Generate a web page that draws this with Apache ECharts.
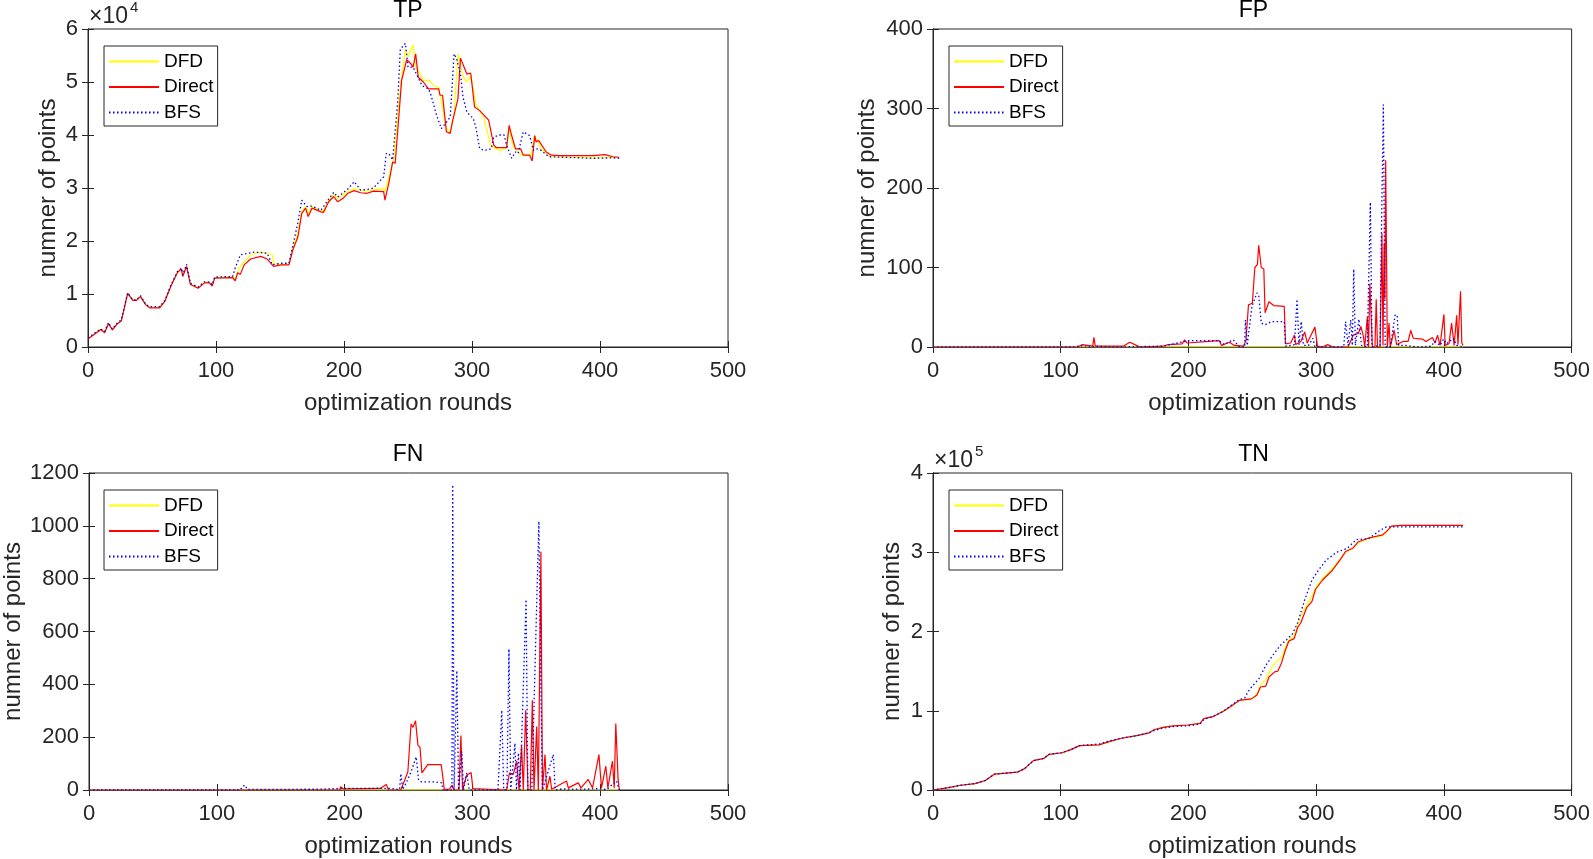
<!DOCTYPE html>
<html>
<head>
<meta charset="utf-8">
<title>TP / FP / FN / TN</title>
<script src="https://cdn.jsdelivr.net/npm/echarts/dist/echarts.min.js"></script>
<style>
html, body { margin: 0; padding: 0; background: #fff; }
#main { width: 1593px; height: 859px; }
</style>
</head>
<body>
<div id="main"></div>
<script>
// values: [optimization round, number of points]
var xTicks = [0, 100, 200, 300, 400, 500];
var tpTicks = [0, 10000, 20000, 30000, 40000, 50000, 60000];
var fpTicks = [0, 100, 200, 300, 400];
var fnTicks = [0, 200, 400, 600, 800, 1000, 1200];
var tnTicks = [0, 100000, 200000, 300000, 400000];

var tpDFD = [[0,1600],[5,2500],[10,3400],[13,2800],[16,4500],[19,3300],[23,4500],[26,5000],[31,10200],[35,8900],[38,8900],[41,9600],[45,8100],[48,7500],[56,7500],[60,8700],[65,11700],[70,14200],[73,14800],[74,13500],[77,15300],[80,11900],[86,11200],[91,12200],[95,12200],[97,11600],[99,13100],[113,13200],[115,12700],[117,14300],[119,15200],[127,17400],[135,17900],[144,17400],[145,15800],[151,15600],[157,15700],[160,18700],[164,21500],[167,25600],[170,26500],[172,25200],[175,26500],[182,25700],[184,25700],[188,27700],[192,28900],[195,28000],[199,28600],[203,29400],[208,29900],[213,29600],[218,29500],[223,29700],[231,29800],[232,29300],[235,32000],[239,35900],[244,49000],[248,56200],[250,54700],[254,57000],[256,52800],[259,51800],[262,50300],[267,50300],[270,49300],[274,49000],[280,41200],[283,40600],[286,44000],[289,55300],[293,50900],[296,50000],[299,51200],[303,45900],[309,43400],[315,37800],[322,37100],[327,37400],[329,41500],[332,37800],[339,36200],[346,36200],[349,39900],[354,37400],[361,35900],[395,35700],[415,35800]];
var tpDirect = [[0,1500],[5,2400],[10,3300],[13,2700],[16,4400],[19,3200],[23,4400],[26,4900],[31,10100],[35,8800],[38,8800],[41,9500],[45,8000],[48,7400],[56,7400],[60,8600],[65,11600],[70,14100],[73,14700],[74,13300],[77,15200],[80,11800],[86,11100],[91,12100],[95,12100],[97,11500],[99,13000],[113,13100],[115,12500],[117,14000],[119,13700],[122,15500],[127,16600],[135,17100],[140,16600],[145,15200],[151,15500],[157,15500],[160,18300],[164,20800],[167,25200],[170,26200],[172,24600],[175,26200],[182,25500],[184,25400],[188,27400],[192,28400],[195,27400],[199,28000],[203,29000],[208,29500],[213,29100],[218,29000],[223,29400],[231,29300],[232,27700],[235,30900],[238,34900],[240,34700],[243,44000],[245,50300],[249,54200],[252,53500],[254,52800],[256,55300],[258,50900],[262,50000],[266,48700],[274,48700],[275,47500],[277,47500],[280,40600],[283,40300],[285,42800],[289,46800],[291,54500],[296,51500],[299,51700],[302,45300],[306,44600],[313,42800],[317,38100],[319,37600],[327,37600],[329,41800],[331,39900],[334,37400],[338,37400],[340,36200],[345,36200],[347,35100],[349,39900],[350,38700],[352,39000],[358,36800],[362,36200],[369,36100],[395,36100],[404,36300],[410,35900],[415,35800]];
var tpBFS = [[0,1700],[5,2600],[10,3400],[13,2900],[16,4600],[19,3400],[23,4600],[26,5100],[31,10200],[35,8900],[38,8900],[41,9700],[45,8100],[48,7600],[56,7600],[60,8800],[65,11800],[70,14300],[73,14900],[74,13600],[77,15600],[80,12000],[86,11300],[91,12300],[95,12300],[97,11700],[99,13200],[113,13300],[115,14900],[119,17400],[130,17900],[140,17700],[144,15500],[151,15800],[157,15800],[161,20200],[164,23500],[167,27700],[171,26500],[175,26600],[182,25800],[188,27900],[192,29200],[195,28300],[199,29000],[203,29800],[208,31200],[213,29600],[218,29700],[223,30000],[231,32100],[233,36500],[235,36500],[238,35300],[242,46500],[244,56200],[248,57300],[250,52800],[254,52800],[261,49300],[266,48700],[268,47500],[272,44000],[276,41200],[280,42400],[283,43400],[286,55300],[288,54400],[291,51500],[293,47100],[296,44300],[301,43100],[303,41500],[306,37400],[310,37100],[315,37400],[317,39600],[321,40000],[325,40000],[327,38100],[331,35600],[334,36800],[336,36500],[340,40600],[345,39900],[348,37100],[351,37400],[354,37100],[360,35900],[395,35600],[410,35700],[415,35600]];

// DFD stays at zero for FP and FN
var fpDFD = [[0,0],[415,0]];
var fpDirect = [[0,0],[113,0],[117,3],[125,1],[126,12],[127,1],[138,1],[149,1],[154,6],[158,3],[162,0],[180,1],[184,3],[195,4],[197,9],[199,5],[216,7],[224,8],[226,2],[232,6],[236,2],[243,1],[245,8],[247,53],[250,55],[252,100],[254,104],[255,128],[257,100],[259,98],[260,43],[263,57],[267,52],[275,51],[276,4],[280,5],[283,15],[284,3],[288,7],[291,19],[293,5],[296,15],[299,25],[301,1],[305,0],[309,3],[313,0],[325,0],[329,15],[333,17],[335,26],[337,13],[338,0],[340,38],[341,0],[342,80],[344,0],[346,0],[347,60],[348,0],[350,0],[351.5,143],[352.3,2],[353.2,130],[353.8,60],[354.4,235],[355.7,0],[357,30],[358,0],[361,21],[363,3],[368,7],[372,7],[374,21],[376,11],[383,10],[386,7],[391,12],[393,5],[395,15],[397,2],[400,41],[401,2],[404,4],[406,30],[408,2],[410,40],[411,3],[413,70],[414,5],[415,2]];
var fpBFS = [[0,0],[110,0],[118,2],[122,0],[128,1],[140,0],[180,1],[200,8],[224,8],[228,3],[235,9],[240,0],[244,0],[244.6,34],[246,2],[249.7,51],[253.6,68],[255,65],[257,30],[260,28],[265,32],[275,32],[276,1],[283,3],[285,60],[286.5,3],[288.3,32],[290,2],[294,2],[297.4,11],[299,0],[321.6,0],[323,32],[325,2],[327,34],[328.3,2],[329.4,98],[330.7,2],[333.4,35],[335.5,2],[340,0],[342.4,182],[343.7,0],[350,2],[351,135],[352.6,305],[354,0],[358,0],[361.9,41],[363.5,38],[364.6,2],[370,2],[380,0],[390,1],[393,7],[397,2],[399.7,10],[402,4],[407.5,11],[410,2],[415,0]];

var fnDFD = [[0,0],[415,0]];
var fnDirect = [[0,0],[110,0],[111,6],[112,0],[196,0],[197,12],[199,4],[228,6],[232.6,21],[234.4,0],[244,1],[247,37],[249.5,69],[252,250],[253.5,237],[255.5,262],[257.4,169],[259,162],[260.5,65],[265,96],[275.6,96],[277,44],[278,2],[282,3],[284,19],[285.5,0],[289.5,0],[291,206],[292.3,0],[295.5,56],[299,66],[300.4,5],[326.8,0],[329,65],[332,59],[334.6,109],[336.5,0],[338.5,171],[339.8,0],[341.7,302],[343.5,0],[345.3,0],[346.9,340],[348.2,0],[350.3,240],[351.6,0],[353.6,902],[354.8,0],[356.8,134],[358,0],[360.7,52],[362,3],[373.7,34],[375,8],[382.8,27],[385,8],[390.6,40],[394,8],[399,134],[401,8],[404.4,90],[406,8],[409.6,109],[411,8],[412.2,252],[414,40],[415,0]];
var fnBFS = [[0,0],[118,0],[121.8,19],[124,2],[180,3],[200,6],[235,6],[243,2],[244,62],[245.5,2],[248,25],[252,69],[256,125],[257.9,37],[260,31],[270,31],[276,27],[277,0],[284,0],[284.6,1155],[285.7,0],[287.8,452],[289.2,0],[291.7,146],[293,0],[295.6,65],[297.5,0],[320,0],[323,302],[324.5,0],[327,0],[328.6,534],[330,0],[333.3,177],[334.5,0],[336,140],[337.3,0],[342,721],[343.4,0],[346.5,0],[352,1017],[353.4,446],[354.8,0],[363.3,134],[364.8,0],[370,4],[385,3],[398,5],[405,2],[412.8,34],[415,0]];

var tnDFD = [[0,0],[12,3000],[21.7,6000],[32.8,8000],[41,12000],[48,20000],[55,21000],[66,22500],[71.7,27000],[78.6,37000],[87,40000],[91,45000],[101,47000],[108,51000],[114.7,56000],[130,57000],[138,61000],[146.7,65000],[160.5,69000],[169,72000],[173,76000],[180,79000],[188,81000],[199.4,82000],[209,84000],[212,90000],[219,92500],[227,99000],[232.8,105000],[239.7,113000],[249.4,115000],[253.6,121000],[256.4,132000],[260.5,140000],[266,157000],[273,168000],[278,188000],[283,196000],[288,220000],[296.7,245000],[300,256000],[305,267000],[312,278000],[319,292000],[323,300000],[328.6,305000],[332.8,312000],[341,317000],[352,321000],[355,326000],[359,333000],[366,333500],[415,333500]];
var tnDirect = [[0,0],[12,3000],[21.7,6000],[32.8,8000],[41,12000],[48,20000],[55,21000],[66,22500],[71.7,27000],[78.6,37000],[87,40000],[91,45000],[101,47000],[108,51000],[114.7,56000],[130,57000],[138,61000],[146.7,65000],[160.5,69000],[169,72000],[173,76000],[180,79000],[188,81000],[199.4,82000],[209,84000],[212,90000],[219,92500],[227,99000],[232.8,105000],[239.7,113000],[249.4,115000],[253.6,120000],[256.4,130000],[260.5,131000],[263,142500],[267.5,149000],[270,150000],[273,161000],[275.8,176000],[278.6,188000],[282.8,191000],[285.5,205000],[288,211000],[292.5,230000],[296.7,238000],[299.4,253000],[305,265000],[312,276000],[319,291000],[323,301000],[328.6,305000],[332.8,313000],[341,318000],[352,322000],[355,326000],[359,333000],[366,334000],[415,334000]];
var tnBFS = [[0,0],[12,3000],[21.7,6000],[32.8,8000],[41,12000],[48,20000],[55,21000],[66,22500],[71.7,27000],[78.6,37000],[87,40000],[91,45000],[101,47000],[108,51000],[114.7,56000],[130,58000],[138,62000],[146.7,65000],[160.5,69000],[169,72000],[173,75000],[180,78000],[188,80000],[199.4,81000],[209,83000],[212,89000],[219,92500],[227,99000],[232.8,106000],[239.7,114000],[244,116000],[246.7,124000],[249.4,130000],[255,140000],[260.5,157000],[266,170000],[271.7,182000],[277,190000],[281.4,197000],[285.5,211000],[291,240000],[296.7,265000],[302,278000],[307.8,290000],[316,300000],[324.4,305000],[331.4,316000],[341,317000],[349.4,327000],[355,332000],[415,332000]];

var ink = '#262626';
var font = '"Liberation Sans", Arial, Helvetica, sans-serif';

var panels = [
    {title: 'TP', left: 88,  top: 29,  width: 640, height: 318, ticks: tpTicks, scale: 1e4, exp: '4', nameGap: 28, data: [tpDFD, tpDirect, tpBFS]},
    {title: 'FP', left: 933, top: 29,  width: 641, height: 318, ticks: fpTicks, scale: 1,   exp: '',  nameGap: 54, data: [fpDFD, fpDirect, fpBFS]},
    {title: 'FN', left: 88,  top: 473, width: 640, height: 319, ticks: fnTicks, scale: 1,   exp: '',  nameGap: 64, data: [fnDFD, fnDirect, fnBFS]},
    {title: 'TN', left: 933, top: 473, width: 641, height: 319, ticks: tnTicks, scale: 1e5, exp: '5', nameGap: 29, data: [tnDFD, tnDirect, tnBFS]}
];

var names = ['DFD', 'Direct', 'BFS'];
var styles = [
    {color: '#ffff00', width: 1.2, type: 'solid'},
    {color: '#ff0000', width: 1.2, type: 'solid'},
    {color: '#0000ff', width: 1.3, type: [1.5, 2.5]}
];

var grid = [], xAxis = [], yAxis = [], series = [], legend = [], title = [], graphic = [];
var mirrorX = [], mirrorY = [];

panels.forEach(function (p, i) {
    var yMin = p.ticks[0], yMax = p.ticks[p.ticks.length - 1], yStep = p.ticks[1] - p.ticks[0];
    grid.push({left: p.left, top: p.top, width: p.width, height: p.height, show: true,
        borderColor: ink, borderWidth: 1, backgroundColor: '#fff'});

    xAxis.push({
        type: 'value', gridIndex: i, position: 'bottom',
        min: xTicks[0], max: xTicks[xTicks.length - 1], interval: xTicks[1] - xTicks[0],
        axisLine: {show: true, lineStyle: {color: ink, width: 1}},
        axisTick: {show: true, inside: true, length: 6, lineStyle: {color: ink}},
        axisLabel: {margin: 13, fontSize: 22, color: ink, fontFamily: font},
        splitLine: {show: false},
        name: 'optimization rounds', nameLocation: 'middle', nameGap: 44,
        nameTextStyle: {fontSize: 24, color: ink, fontFamily: font}
    });
    yAxis.push({
        type: 'value', gridIndex: i, position: 'left',
        min: yMin, max: yMax, interval: yStep,
        axisLine: {show: true, lineStyle: {color: ink, width: 1}},
        axisTick: {show: true, inside: true, length: 6, lineStyle: {color: ink}},
        axisLabel: {margin: 10, fontSize: 22, color: ink, fontFamily: font,
            formatter: function (v) { return String(Math.round(v / p.scale * 100) / 100); }},
        splitLine: {show: false},
        name: 'numner of points', nameLocation: 'middle', nameGap: p.nameGap,
        nameTextStyle: {fontSize: 24, color: ink, fontFamily: font}
    });

    // MATLAB box: ticks mirrored on top and right
    mirrorX.push({
        type: 'value', gridIndex: i, position: 'top',
        min: xTicks[0], max: xTicks[xTicks.length - 1], interval: xTicks[1] - xTicks[0],
        axisLine: {show: true, lineStyle: {color: ink, width: 1}},
        axisTick: {show: true, inside: true, length: 6, lineStyle: {color: ink}},
        axisLabel: {show: false}, splitLine: {show: false}
    });
    mirrorY.push({
        type: 'value', gridIndex: i, position: 'right',
        min: yMin, max: yMax, interval: yStep,
        axisLine: {show: true, lineStyle: {color: ink, width: 1}},
        axisTick: {show: true, inside: true, length: 6, lineStyle: {color: ink}},
        axisLabel: {show: false}, splitLine: {show: false}
    });

    p.data.forEach(function (d, k) {
        series.push({
            name: names[k], type: 'line', xAxisIndex: i, yAxisIndex: i,
            data: d, symbol: 'none', showSymbol: false, animation: false,
            lineStyle: styles[k], itemStyle: {color: styles[k].color},
            emphasis: {disabled: true}
        });
    });

    // legend shows only the line sample, no marker
    legend.push({
        orient: 'vertical', left: p.left + 16, top: p.top + 17,
        data: names, itemWidth: 50, itemHeight: 14, itemGap: 6.5,
        padding: [6, 4, 4, 4], borderColor: ink, borderWidth: 1, borderRadius: 0,
        backgroundColor: '#fff', selectedMode: false,
        itemStyle: {color: 'rgba(0,0,0,0)', borderWidth: 0, opacity: 0},
        textStyle: {fontSize: 19, color: '#000', fontFamily: font}
    });

    title.push({
        text: p.title, left: p.left + p.width / 2, top: p.top - 30, textAlign: 'center', padding: 0,
        textStyle: {fontSize: 23, fontWeight: 'normal', color: '#000', fontFamily: font}
    });

    if (p.exp) {
        graphic.push({type: 'text', x: p.left + 1, y: p.top - 12,
            style: {text: '×10', font: '23px "Liberation Sans", Arial, sans-serif', fill: ink,
                verticalAlign: 'middle', align: 'left'}});
        graphic.push({type: 'text', x: p.left + 42, y: p.top - 21,
            style: {text: p.exp, font: '15px "Liberation Sans", Arial, sans-serif', fill: ink,
                verticalAlign: 'middle', align: 'left'}});
    }
});

var myChart = echarts.init(document.getElementById('main'));
myChart.setOption({
    backgroundColor: '#fff',
    animation: false,
    title: title,
    legend: legend,
    grid: grid,
    xAxis: xAxis.concat(mirrorX),
    yAxis: yAxis.concat(mirrorY),
    series: series,
    graphic: graphic
});
</script>
</body>
</html>
